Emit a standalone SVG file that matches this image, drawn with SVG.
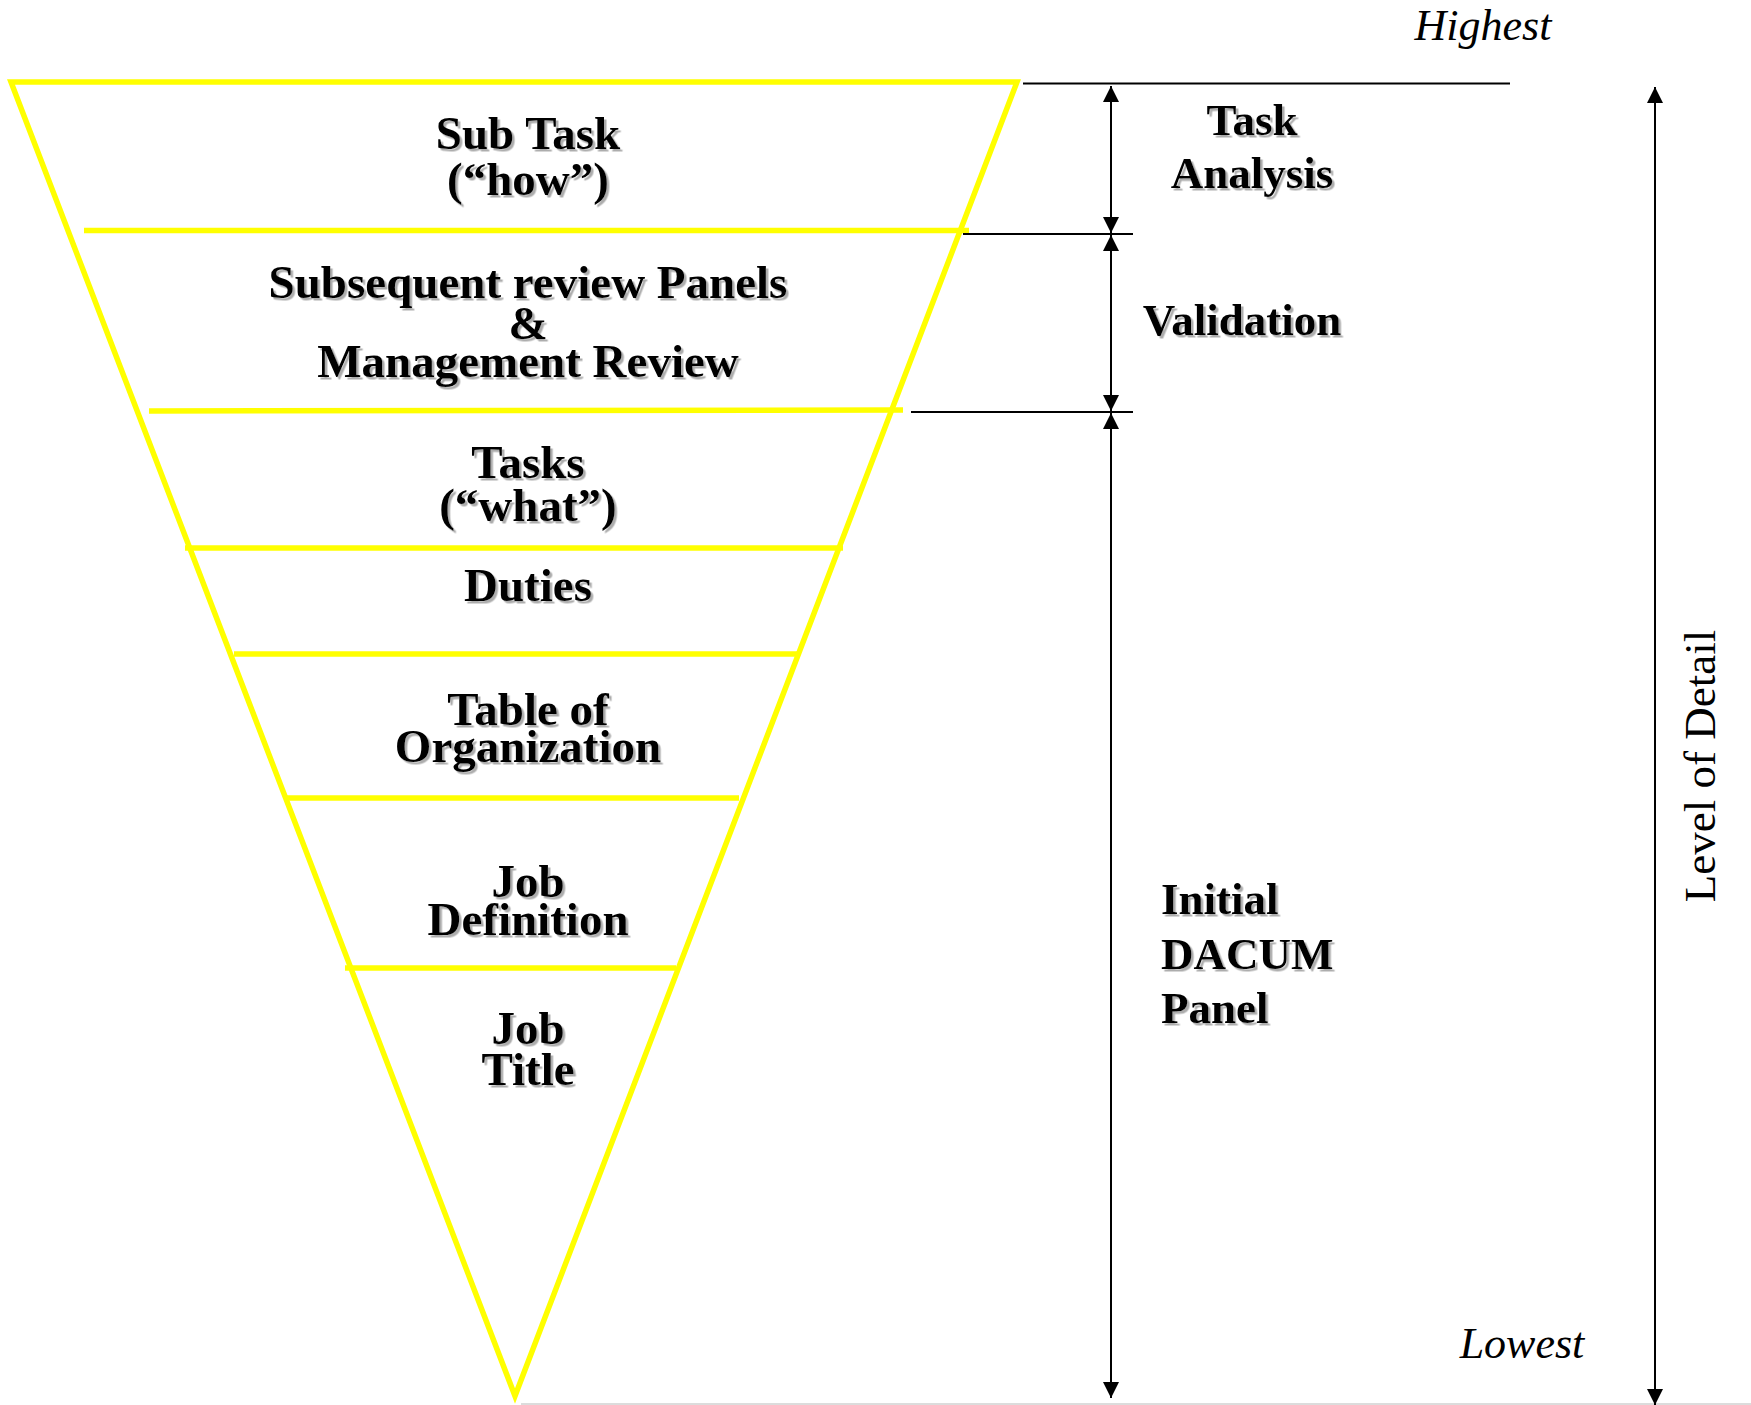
<svg xmlns="http://www.w3.org/2000/svg" width="1751" height="1405" viewBox="0 0 1751 1405">
<style>
.yl{stroke:#ffff00;stroke-width:5.5;fill:none;stroke-linecap:butt}
.bl{stroke:#000;stroke-width:2;fill:none}
.pt{font-family:"Liberation Serif","Times New Roman",serif;font-weight:bold;font-size:47px;fill:#000;text-anchor:middle}
.rt{font-family:"Liberation Serif","Times New Roman",serif;font-weight:bold;font-size:45px;fill:#000}
.it{font-family:"Liberation Serif","Times New Roman",serif;font-style:italic;font-size:44px;fill:#000;text-anchor:middle}
.rg{font-family:"Liberation Serif","Times New Roman",serif;font-size:45px;fill:#000;text-anchor:middle}
</style>
<defs>
<filter id="sh" x="-10%" y="-20%" width="130%" height="150%">
<feDropShadow dx="2.5" dy="2.5" stdDeviation="0.6" flood-color="#777" flood-opacity="0.6"/>
</filter>
<marker id="ah" viewBox="0 0 16 16" refX="16" refY="8" markerWidth="16" markerHeight="16" markerUnits="userSpaceOnUse" orient="auto-start-reverse">
<path d="M0,0 L16,8 L0,16 Z" fill="#000"/>
</marker>
</defs>
<rect width="1751" height="1405" fill="#fff"/>
<line x1="521" y1="1404" x2="1751" y2="1404" stroke="#dcdcdc" stroke-width="2"/>
<g id="pyramid">
<polygon class="yl" points="11,82 1017,82 515,1396"/>
<line class="yl" x1="84" y1="230.5" x2="969" y2="230.5"/>
<line class="yl" x1="149" y1="411" x2="903" y2="410"/>
<line class="yl" x1="185" y1="548" x2="843" y2="548"/>
<line class="yl" x1="234" y1="654" x2="798" y2="654"/>
<line class="yl" x1="287" y1="798" x2="739" y2="798"/>
<line class="yl" x1="345" y1="968" x2="676" y2="968"/>
</g>
<g id="level-subtask" filter="url(#sh)">
<text class="pt" x="528" y="149">Sub Task</text>
<text class="pt" x="528" y="195">(“how”)</text>
</g>
<g id="level-review" filter="url(#sh)">
<text class="pt" x="528" y="298">Subsequent review Panels</text>
<text class="pt" x="528" y="339">&amp;</text>
<text class="pt" x="528" y="377">Management Review</text>
</g>
<g id="level-tasks" filter="url(#sh)">
<text class="pt" x="528" y="478">Tasks</text>
<text class="pt" x="528" y="521">(“what”)</text>
</g>
<g id="level-duties" filter="url(#sh)">
<text class="pt" x="528" y="601">Duties</text>
</g>
<g id="level-table" filter="url(#sh)">
<text class="pt" x="528" y="725">Table of</text>
<text class="pt" x="528" y="762">Organization</text>
</g>
<g id="level-jobdef" filter="url(#sh)">
<text class="pt" x="528" y="897">Job</text>
<text class="pt" x="528" y="935">Definition</text>
</g>
<g id="level-jobtitle" filter="url(#sh)">
<text class="pt" x="528" y="1044">Job</text>
<text class="pt" x="528" y="1085">Title</text>
</g>
<g id="connectors">
<line class="bl" x1="1023" y1="83.5" x2="1510" y2="83.5"/>
<line class="bl" x1="963" y1="234" x2="1133" y2="234"/>
<line class="bl" x1="911" y1="412" x2="1133" y2="412"/>
<line class="bl" x1="1111" y1="86" x2="1111" y2="233" marker-start="url(#ah)" marker-end="url(#ah)"/>
<line class="bl" x1="1111" y1="235" x2="1111" y2="411" marker-start="url(#ah)" marker-end="url(#ah)"/>
<line class="bl" x1="1111" y1="413" x2="1111" y2="1398" marker-start="url(#ah)" marker-end="url(#ah)"/>
<line class="bl" x1="1655" y1="87" x2="1655" y2="1405" marker-start="url(#ah)" marker-end="url(#ah)"/>
</g>
<g id="label-task-analysis" filter="url(#sh)">
<text class="rt" x="1252" y="135" text-anchor="middle">Task</text>
<text class="rt" x="1252" y="188" text-anchor="middle">Analysis</text>
</g>
<g id="label-validation" filter="url(#sh)">
<text class="rt" x="1242" y="335" text-anchor="middle">Validation</text>
</g>
<g id="label-dacum" filter="url(#sh)">
<text class="rt" x="1161" y="914">Initial</text>
<text class="rt" x="1161" y="969">DACUM</text>
<text class="rt" x="1161" y="1023">Panel</text>
</g>
<g id="label-highest">
<text class="it" x="1483" y="40">Highest</text>
</g>
<g id="label-lowest">
<text class="it" x="1522" y="1358">Lowest</text>
</g>
<g id="label-level">
<text class="rg" transform="translate(1715,766) rotate(-90)">Level of Detail</text>
</g>
</svg>
